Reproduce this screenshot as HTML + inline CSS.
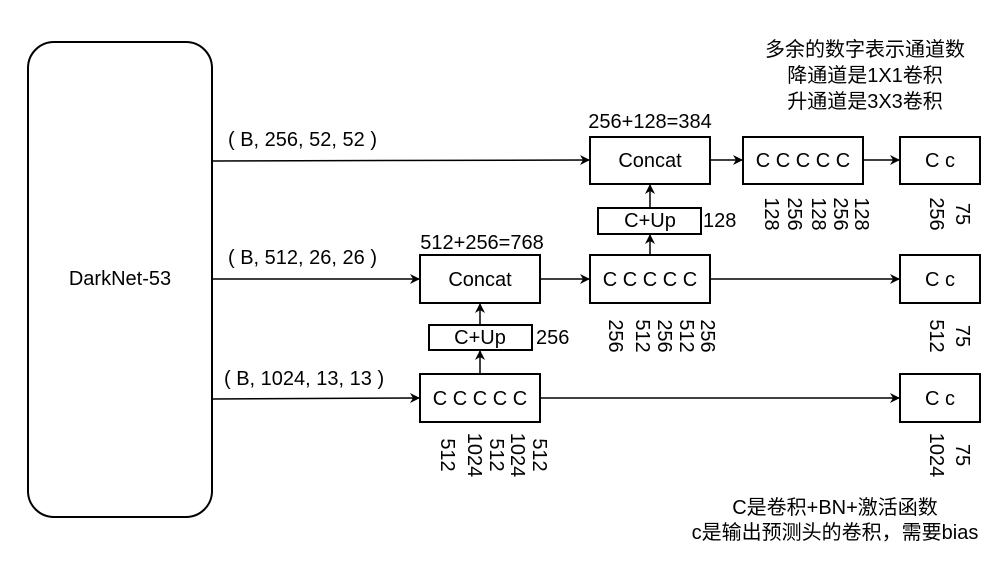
<!DOCTYPE html>
<html><head><meta charset="utf-8"><style>
html,body{margin:0;padding:0;background:#fff}
svg{display:block}
text{font-family:"Liberation Sans","Noto Sans CJK SC",sans-serif;font-size:20px;fill:#000}
</style></head><body>
<svg width="1004" height="572" viewBox="0 0 1004 572" xmlns="http://www.w3.org/2000/svg">
<defs><marker id="a" markerWidth="10" markerHeight="10" refX="9" refY="5" orient="auto" markerUnits="userSpaceOnUse"><path d="M0,0 L10,5 L0,10 L3,5 Z" fill="#000"/></marker></defs>
<g fill="none" stroke="#000" stroke-width="2">
<rect x="28" y="42" width="184" height="475" rx="26"/>
<rect x="590" y="137" width="120" height="47"/>
<rect x="743" y="137" width="120" height="47"/>
<rect x="900" y="137" width="80" height="47"/>
<rect x="598" y="208" width="103" height="26"/>
<rect x="420" y="255" width="120" height="48"/>
<rect x="590" y="255" width="120" height="48"/>
<rect x="900" y="255" width="80" height="48"/>
<rect x="429" y="325" width="103" height="25"/>
<rect x="420" y="374" width="120" height="48"/>
<rect x="900" y="374" width="80" height="48"/>
<g stroke-width="1.5">
<line x1="212" y1="161" x2="589" y2="160" marker-end="url(#a)"/>
<line x1="710" y1="160" x2="742" y2="160" marker-end="url(#a)"/>
<line x1="863" y1="160" x2="899" y2="160" marker-end="url(#a)"/>
<line x1="650" y1="208" x2="650" y2="185" marker-end="url(#a)"/>
<line x1="650" y1="255" x2="650" y2="235" marker-end="url(#a)"/>
<line x1="212" y1="279" x2="419" y2="279" marker-end="url(#a)"/>
<line x1="540" y1="279" x2="589" y2="279" marker-end="url(#a)"/>
<line x1="710" y1="279" x2="899" y2="279" marker-end="url(#a)"/>
<line x1="480" y1="325" x2="480" y2="304" marker-end="url(#a)"/>
<line x1="480" y1="374" x2="480" y2="351" marker-end="url(#a)"/>
<line x1="212" y1="399" x2="419" y2="398" marker-end="url(#a)"/>
<line x1="540" y1="398" x2="899" y2="398" marker-end="url(#a)"/>
</g></g>
<g text-anchor="middle" dominant-baseline="central">
<text x="120" y="279">DarkNet-53</text>
<text x="650" y="161">Concat</text>
<text x="803" y="161">C C C C C</text>
<text x="940" y="161">C c</text>
<text x="650" y="221">C+Up</text>
<text x="480" y="280">Concat</text>
<text x="650" y="280">C C C C C</text>
<text x="940" y="280">C c</text>
<text x="480" y="338">C+Up</text>
<text x="480" y="399">C C C C C</text>
<text x="940" y="399">C c</text>
<text x="650" y="122">256+128=384</text>
<text x="482" y="243">512+256=768</text>
<text x="865" y="50">多余的数字表示通道数</text>
<text x="865" y="76">降通道是1X1卷积</text>
<text x="865" y="102">升通道是3X3卷积</text>
<text x="835" y="508">C是卷积+BN+激活函数</text>
<text x="835" y="533">c是输出预测头的卷积，需要bias</text>
</g>
<g dominant-baseline="central">
<text x="228" y="140">( B, 256, 52, 52 )</text>
<text x="228" y="258">( B, 512, 26, 26 )</text>
<text x="224" y="379">( B, 1024, 13, 13 )</text>
<text x="703" y="221">128</text>
<text x="536" y="338">256</text>
</g>
<g text-anchor="middle" dominant-baseline="central">
<text transform="translate(447,455) rotate(90)">512</text>
<text transform="translate(474,455) rotate(90)">1024</text>
<text transform="translate(496,455) rotate(90)">512</text>
<text transform="translate(517,455) rotate(90)">1024</text>
<text transform="translate(539,455) rotate(90)">512</text>
<text transform="translate(615,336) rotate(90)">256</text>
<text transform="translate(642,336) rotate(90)">512</text>
<text transform="translate(664,336) rotate(90)">256</text>
<text transform="translate(686,336) rotate(90)">512</text>
<text transform="translate(707,336) rotate(90)">256</text>
<text transform="translate(771,214) rotate(90)">128</text>
<text transform="translate(794,214) rotate(90)">256</text>
<text transform="translate(818,214) rotate(90)">128</text>
<text transform="translate(840,214) rotate(90)">256</text>
<text transform="translate(861,214) rotate(90)">128</text>
<text transform="translate(936,214) rotate(90)">256</text>
<text transform="translate(962,214) rotate(90)">75</text>
<text transform="translate(936,336) rotate(90)">512</text>
<text transform="translate(962,336) rotate(90)">75</text>
<text transform="translate(936,455) rotate(90)">1024</text>
<text transform="translate(962,455) rotate(90)">75</text>
</g>
</svg>
</body></html>
